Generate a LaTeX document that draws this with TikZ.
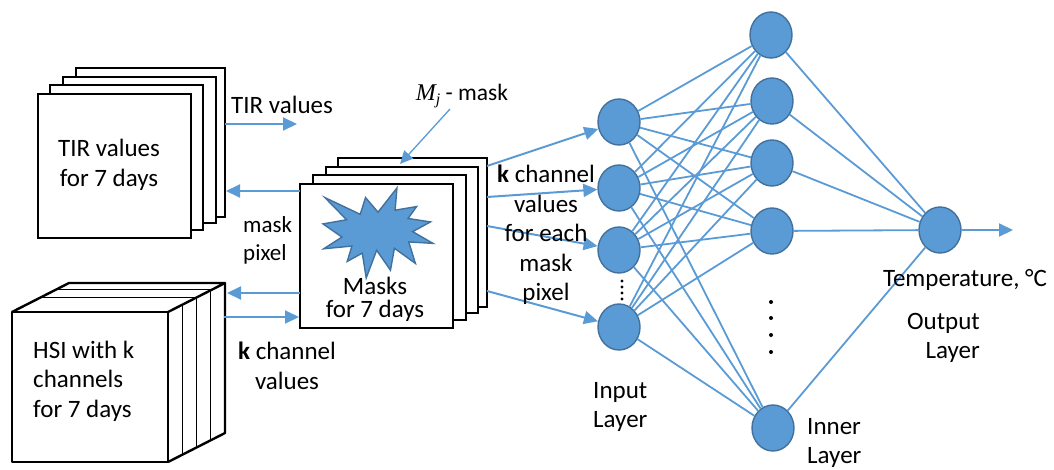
\documentclass[tikz,border=0pt]{standalone}
\usepackage{fontspec}
\setmainfont{Carlito}
\newfontfamily\mjfont{Liberation Serif}
\usetikzlibrary{arrows.meta,shapes.geometric,calc}
\definecolor{nblue}{HTML}{5B9BD5}
\definecolor{nedge}{HTML}{41719C}
\begin{document}
\begin{tikzpicture}[x=1pt,y=-1pt,
  sheet/.style={draw=black,line width=2.4pt,fill=white,anchor=north west,inner sep=0pt,outer sep=0pt},
  lbl/.style={font=\fontsize{25}{29.5}\selectfont,inner sep=0pt,align=center,text=black},
  neuron/.style={ellipse,draw=nedge,fill=nblue,line width=1.4pt,minimum width=42pt,minimum height=46pt,inner sep=0pt},
  conn/.style={draw=nblue,line width=1.8pt},
  arr/.style={draw=nblue,line width=2pt,-{Triangle[length=14pt,width=13pt]}},
  thinarr/.style={draw=nblue,line width=1.3pt,-{Triangle[length=13pt,width=12pt]}},
  cubeedge/.style={draw=black,line width=2.4pt,line join=round},
  slice/.style={draw=black,line width=1.1pt},
  dot/.style={fill=black},
]
\useasboundingbox (0,0) rectangle (1054,469);

% ---------- TIR stack ----------
\node[sheet,minimum width=149pt,minimum height=149pt] (tir4) at (76,68) {};
\node[sheet,minimum width=153pt,minimum height=146pt] (tir3) at (63,77) {};
\node[sheet,minimum width=153pt,minimum height=145pt] (tir2) at (50,85) {};
\node[sheet,minimum width=153pt,minimum height=144pt] (tir1) at (38,94) {};
\node[lbl] (tirtxt) at (109,165) {TIR values\\for 7 days};

% ---------- HSI cube ----------
\coordinate (cFTL) at (12,312);
\coordinate (cFTR) at (168,312);
\coordinate (cFBR) at (168,462);
\coordinate (cFBL) at (12,462);
\coordinate (cBTL) at (69,283);
\coordinate (cBTR) at (225,283);
\coordinate (cBBR) at (225,433);
\fill[white] (cFTL) -- (cBTL) -- (cBTR) -- (cBBR) -- (cFBR) -- (cFBL) -- cycle;
\foreach \f in {0.25,0.5,0.75}{
  \draw[slice] ($(cFTR)!\f!(cBTR)$) -- ($(cFBR)!\f!(cBBR)$);
}
\foreach \f in {0.5,0.78}{
  \draw[slice] ($(cFTL)!\f!(cBTL)$) -- ($(cFTR)!\f!(cBTR)$);
}
\draw[cubeedge] (cFTL) rectangle (cFBR);
\draw[cubeedge] (cFTL) -- (cBTL) -- (cBTR) -- (cFTR);
\draw[cubeedge] (cBTR) -- (cBBR) -- (cFBR);
\node[lbl,align=left,anchor=west] (hsitxt) at (33,381) {HSI with k\\channels\\for 7 days};

% ---------- Mask stack ----------
\node[sheet,minimum width=149pt,minimum height=149pt] (m4) at (338,158) {};
\node[sheet,minimum width=152pt,minimum height=146pt] (m3) at (326,167) {};
\node[sheet,minimum width=153pt,minimum height=145pt] (m2) at (313,175) {};
\node[sheet,minimum width=153pt,minimum height=144pt] (m1) at (300,184) {};
\begin{scope}[shift={(323,188)},x=0.50926pt,y=-0.41667pt]
\draw[fill=nblue,draw=nedge,line width=1.4pt,line join=miter]
 (108,58) -- (145.22,0) -- (141.55,53.25) -- (183.80,44.57) -- (167.02,73.15) --
 (210.97,81.37) -- (176.07,104.75) -- (216,132.90) -- (168.37,129.42) --
 (181.45,180.95) -- (140.20,144.57) -- (132.47,197.37) -- (105.32,149.35) --
 (84.85,216) -- (77.15,156.27) -- (47.62,176.17) -- (56.67,139.37) --
 (1.35,145.87) -- (37.22,117.75) -- (0,86.15) -- (46.27,76.17) --
 (3.70,22.95) -- (73.12,63.20) -- (83.52,22.95) -- cycle;
\end{scope}
\node[lbl,font=\fontsize{25}{23}\selectfont] (masktxt) at (375,299) {Masks\\for 7 days};

% M_j label
\node[font=\fontsize{23.5}{25}\selectfont,inner sep=0pt] (mj) at (462,96) {{\mjfont\itshape\fontsize{24}{25}\selectfont M\raisebox{-4.5pt}{\fontsize{16}{17}\selectfont j}} - mask};
\coordinate (mjtip) at (400,164);
\draw[thinarr] (450,109) -- (mjtip);

% ---------- arrows between blocks ----------
\coordinate (tirend) at (297,124);
\draw[arr] (tir4.east |- tirend) -- (tirend);
\node[lbl] (tirlbl) at (282,105) {TIR values};
\draw[arr] (m1.west |- 0,191) -- (226,191);
\node[lbl,font=\fontsize{23}{28}\selectfont,align=left,anchor=west] (mp) at (243,240) {mask\\pixel};

\draw[arr] (m1.west |- 0,293) -- (227,293);
\draw[arr] (224,317) -- (299,317);
\node[lbl] (kcv) at (287,366) {\textbf{k} channel\\values};

% ---------- network ----------
\node[neuron] (in1) at (619,122) {};
\node[neuron] (in2) at (619,188) {};
\node[neuron] (in3) at (619,250) {};
\node[neuron] (in4) at (619,327) {};
\node[neuron] (h1) at (771,35) {};
\node[neuron] (h2) at (772,101) {};
\node[neuron] (h3) at (772,163) {};
\node[neuron] (h4) at (772,231) {};
\node[neuron] (h5) at (773,428) {};
\node[neuron] (out) at (940,230) {};

\foreach \i in {1,...,4}{\foreach \j in {1,...,5}{\draw[conn] (in\i) -- (h\j);}}
\foreach \j in {1,...,5}{\draw[conn] (h\j) -- (out);}

\draw[arr] (m4.east |- 0,166) -- (in1);
\draw[arr] (m4.east |- 0,197) -- (in2);
\draw[arr] (m4.east |- 0,226) -- (in3);
\draw[arr] (m4.east |- 0,291) -- (in4);
\node[lbl] (kch) at (546,235) {\textbf{k} channel\\values\\for each\\mask\\pixel};

\coordinate (outend) at (1013,230);
\draw[arr] (out) -- (outend);

\foreach \y in {281,287,293,299}{\fill[dot] (622,\y) circle (1.7);}
\foreach \y in {302,318,335,352}{\fill[dot] (771,\y) circle (2);}

\node[lbl,align=left,anchor=west] (inlbl) at (593,407) {Input\\Layer};
\node[lbl,align=left,anchor=west] (hlbl) at (807,443) {Inner\\Layer};
\node[lbl] (templbl) at (965,280) {Temperature, °C};
\node[lbl,align=right,anchor=east] (outlbl) at (980,338) {Output\\Layer};
\end{tikzpicture}
\end{document}
